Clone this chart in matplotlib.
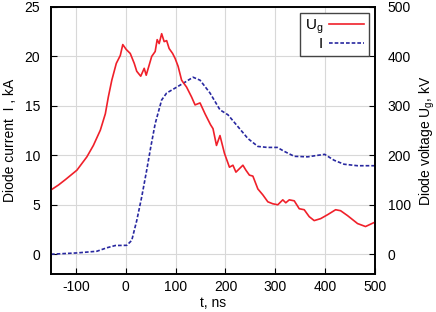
import matplotlib
matplotlib.use("Agg")
import matplotlib.pyplot as plt
from matplotlib.lines import Line2D

plt.rcParams['font.family'] = ['Liberation Sans', 'DejaVu Sans']
plt.rcParams['axes.unicode_minus'] = False

# Voltage Ug (kV, right axis), red
t_u = [-150, -135, -121, -98, -78, -65, -51, -41, -35, -28, -19, -11, -6, 1, 9, 17, 22, 30, 37, 41, 52,
       59, 63, 67, 72, 77, 82, 87, 94, 99, 105, 112, 122, 132, 139, 149, 159, 166, 170, 175, 182, 189,
       198, 208, 215, 221, 235, 241, 248, 255, 265, 275, 285, 295, 305, 315, 321, 328, 338, 348, 358,
       368, 378, 391, 405, 421, 431, 445, 465, 481, 498, 500]
u_kv = [130, 140, 151, 170, 197, 220, 251, 284, 318, 352, 386, 402, 424, 414, 406, 386, 370, 360, 376,
        362, 400, 410, 434, 426, 446, 430, 432, 416, 406, 396, 380, 352, 338, 318, 302, 306, 284, 270,
        262, 254, 220, 240, 204, 176, 180, 166, 180, 170, 160, 158, 132, 120, 106, 102, 100, 110, 104,
        110, 108, 92, 90, 76, 68, 72, 80, 90, 88, 78, 62, 56, 64, 64]

# Current I (kA, left axis), blue dashed
t_i = [-150, -98, -58, -38, -21, 2, 12, 22, 32, 42, 50, 59, 72, 82, 99, 119, 135, 149, 169, 189, 205,
       225, 245, 265, 284, 304, 318, 338, 365, 385, 399, 418, 438, 465, 500]
i_ka = [0.0, 0.13, 0.3, 0.65, 0.88, 0.9, 1.4, 3.4, 5.8, 8.5, 10.8, 13.2, 15.6, 16.3, 16.8, 17.4, 17.9,
        17.6, 16.3, 14.6, 14.1, 12.9, 11.7, 10.9, 10.8, 10.8, 10.4, 9.9, 9.85, 10.0, 10.1, 9.5, 9.1,
        8.95, 8.95]

x_ticks = [-100, 0, 100, 200, 300, 400, 500]
left_ticks = [0, 5, 10, 15, 20, 25]
right_ticks = [0, 100, 200, 300, 400, 500]

red = '#f0202a'
blue = '#2828a0'
fs = 10

fig = plt.figure(figsize=(4.36, 3.12), dpi=100)
ax = fig.add_axes([51/436, 1-274/312, (375-51)/436, (274-7)/312])
ax2 = ax.twinx()

ax.plot(t_i, i_ka, color=blue, lw=1.2, linestyle=(0, (2.2, 1.2)))
ax2.plot(t_u, u_kv, color=red, lw=1.2)

ax.set_xlim(-150, 500)
ax.set_ylim(-2, 25)
ax2.set_ylim(-40, 500)
ax.set_xticks(x_ticks)
ax.set_yticks(left_ticks)
ax2.set_yticks(right_ticks)
ax.grid(True, color='#d8d8d8', lw=0.8)
ax.set_axisbelow(True)
for a in (ax, ax2):
    a.tick_params(direction='in', length=4, labelsize=fs, colors='black')
    for s in a.spines.values():
        s.set_linewidth(1.2)
ax.tick_params(axis='x', pad=4)
ax.tick_params(axis='y', pad=8)
ax2.tick_params(axis='y', pad=9)

ax.set_xlabel('t, ns', fontsize=fs, labelpad=2)
ax.set_ylabel('Diode current  I , kA', fontsize=fs, labelpad=5)
ax2.set_ylabel('Diode voltage U$_\\mathregular{g}$, kV', fontsize=fs, labelpad=5)

handles = [Line2D([], [], color=red, lw=1.2),
           Line2D([], [], color=blue, lw=1.2, linestyle=(0, (2.2, 1.2)))]
leg = ax2.legend(handles, ['U$_\\mathregular{g}$', 'I'], loc='upper right', fontsize=11,
                 frameon=True, fancybox=False, edgecolor='#444444', framealpha=1,
                 markerfirst=False, handlelength=2.3, borderaxespad=0.4,
                 handletextpad=0.4, labelspacing=0.05, borderpad=0.3)
leg.get_frame().set_linewidth(1.0)

fig.savefig('out.png', dpi=100)
